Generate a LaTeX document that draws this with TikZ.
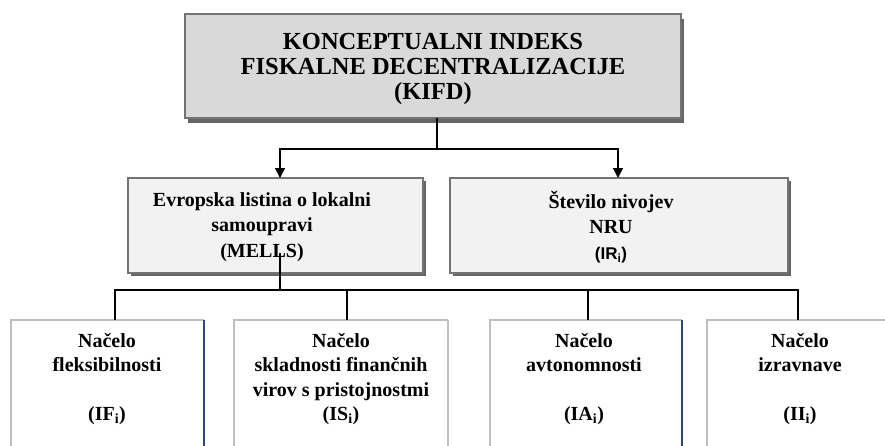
\documentclass[tikz,border=0pt]{standalone}
\usepackage{fontspec}
\setmainfont{Liberation Serif}
\newfontfamily\sansbold{Liberation Sans}
\usetikzlibrary{arrows.meta}
\definecolor{topfill}{HTML}{D9D9D9}
\definecolor{midfill}{HTML}{F2F2F2}
\definecolor{boxedge}{HTML}{737373}
\definecolor{shadowc}{HTML}{666666}
\definecolor{lightedge}{HTML}{BFBFBF}
\definecolor{blueedge}{HTML}{2E4A6A}
\begin{document}
\begin{tikzpicture}[x=1pt,y=-1pt,
  topbox/.style={draw=boxedge, line width=2pt, fill=topfill, inner sep=0pt, outer sep=0pt, anchor=north west},
  midbox/.style={draw=boxedge, line width=2pt, fill=midfill, inner sep=0pt, outer sep=0pt, anchor=north west},
  lowbox/.style={inner sep=0pt, outer sep=0pt, anchor=north west, minimum height=140pt},
  toptext/.style={font=\fontsize{24.5}{25}\selectfont\bfseries, align=center, inner sep=0pt},
  midtext/.style={font=\fontsize{20}{25.5}\selectfont\bfseries, align=center, inner sep=0pt},
  lowtext/.style={font=\fontsize{20}{24.5}\selectfont\bfseries, align=center, inner sep=0pt},
  conn/.style={line width=1.5pt, black},
  arr/.style={conn, -{Triangle[width=10pt,length=10pt]}},
  lowedge/.style={draw=lightedge, line width=2pt},
  lowright/.style={draw=blueedge, line width=1.5pt}
]
\useasboundingbox (0,0) rectangle (885,445);
\clip (0,0) rectangle (885,445);

% top box
\fill[shadowc] (188,19) rectangle (684,123);
\node[topbox, minimum width=496pt, minimum height=104pt] (kifd) at (185,14) {};
\node[toptext] (kifdtext) at (433,69) {KONCEPTUALNI INDEKS\\FISKALNE DECENTRALIZACIJE\\(KIFD)};

% middle boxes
\fill[shadowc] (131,181) rectangle (426,276);
\node[midbox, minimum width=295pt, minimum height=95pt] (mells) at (128,178) {};
\node[midtext] (mellstext) at (262,227) {Evropska listina o lokalni\\samoupravi\\(MELLS)};

\fill[shadowc] (453,181) rectangle (791,276);
\node[midbox, minimum width=338pt, minimum height=95pt] (nru) at (450,178) {};
\node[midtext] (nrutext) at (611,227) {Število nivojev\\NRU\\{\sansbold\fontsize{17}{20}\selectfont(IR\textsubscript{i})}};

% bottom boxes
\node[lowbox, minimum width=193pt] (b1) at (11,320) {};
\node[lowbox, minimum width=214pt] (b2) at (234,320) {};
\node[lowbox, minimum width=192pt] (b3) at (490,320) {};
\node[lowbox, minimum width=186pt] (b4) at (707,320) {};
\foreach \b in {b1,b2,b3,b4}{
  \draw[lowedge] (\b.south west) -- (\b.north west) -- (\b.north east);
}
\draw[lowright] (b1.north east) -- (b1.south east);
\draw[lowedge] (b2.north east) -- (b2.south east);
\draw[lowright] (b3.north east) -- (b3.south east);
\draw[lowedge] (b4.north east) -- (b4.south east);

\node[lowtext] (b1text) at (107,379) {Načelo\\fleksibilnosti\\~\\(IF\textsubscript{i})};
\node[lowtext] (b2text) at (341,379) {Načelo\\skladnosti finančnih\\virov s pristojnostmi\\(IS\textsubscript{i})};
\node[lowtext] (b3text) at (584,379) {Načelo\\avtonomnosti\\~\\(IA\textsubscript{i})};
\node[lowtext] (b4text) at (800,379) {Načelo\\izravnave\\~\\(II\textsubscript{i})};

% connectors top -> middle
\coordinate (j1) at (437,149);
\draw[conn] (437,118) -- (j1);
\draw[arr] (j1) -| ([xshift=4.5pt]mells.north);
\draw[arr] (j1) -| ([xshift=-1pt]nru.north);

% connectors middle -> bottom
\coordinate (m1) at (280,253);
\coordinate (bus) at (280,290);
\draw[conn] (m1) -- (bus);
\draw[conn] (bus) -| ([xshift=7.5pt]b1.north);
\draw[conn] (bus) -| ([xshift=6pt]b2.north);
\draw[conn] (bus) -| ([xshift=2pt]b3.north);
\draw[conn] (bus) -| ([xshift=-2pt]b4.north);
\end{tikzpicture}
\end{document}
